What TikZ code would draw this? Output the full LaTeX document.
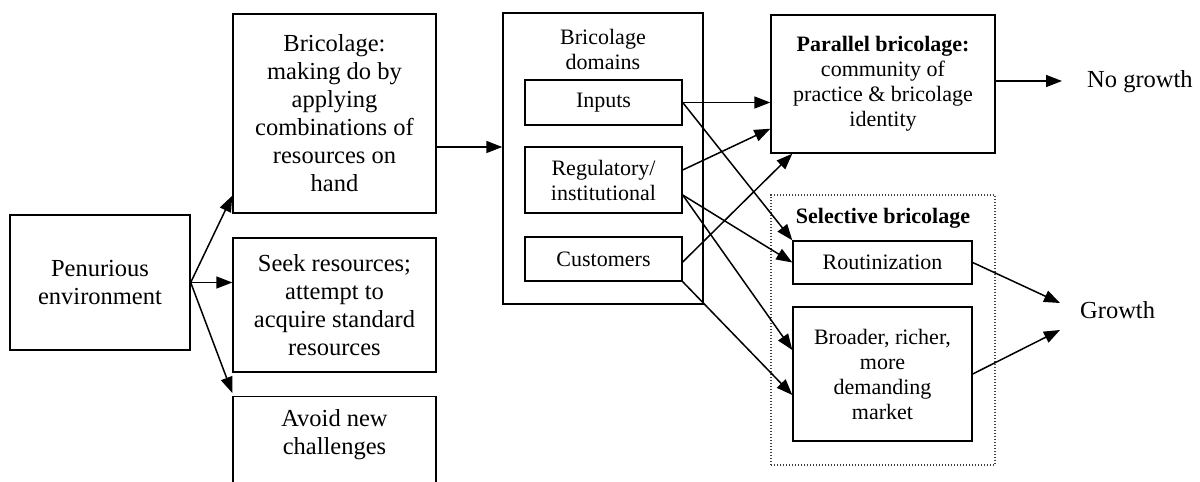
\documentclass[tikz,border=0pt]{standalone}
\usepackage{fontspec}
\setmainfont{Liberation Serif}
\usetikzlibrary{arrows.meta,calc}
\begin{document}
\begin{tikzpicture}[x=1pt,y=-1pt,
  box/.style={draw, line width=1.4pt, align=center, inner sep=0pt, font=\rmfamily\fontsize{24.5}{28}\selectfont},
  sbox/.style={box, font=\rmfamily\fontsize{22}{25}\selectfont},
  arr/.style={line width=1.5pt, -{Triangle[length=16pt,width=12pt]}},
  lbl/.style={inner sep=0pt, align=center},
  dotbox/.style={draw=black!75, line width=1.1pt, dash pattern=on 1.4pt off 1.6pt}]
\useasboundingbox[fill=white] (0,0) rectangle (1200,482);
% left column
\node[box, minimum width=180pt, minimum height=135pt] (pen) at (100,282.5) {Penurious\\environment};
\node[box, minimum width=203pt, minimum height=199pt] (bric) at (334.5,113.5) {Bricolage:\\making do by\\applying\\combinations of\\resources on\\hand};
\node[box, minimum width=203pt, minimum height=134pt] (seek) at (334.5,305) {Seek resources;\\attempt to\\acquire standard\\resources};
\node[box, minimum width=203pt, minimum height=110pt, anchor=north] (avoid) at (334.5,396) {};
\node[lbl, font=\rmfamily\fontsize{24.5}{28}\selectfont] (avoidtxt) at (334.5,435) {Avoid new\\challenges};
% domains
\node[box, minimum width=200pt, minimum height=291pt] (dom) at (603,158.5) {};
\node[lbl, font=\rmfamily\fontsize{22}{25}\selectfont] (domtxt) at (603,49) {Bricolage\\domains};
\node[sbox, minimum width=157pt, minimum height=45pt] (inp) at (603.5,102.5) {Inputs};
\node[sbox, minimum width=157pt, minimum height=66pt] (reg) at (603.5,180) {Regulatory/\\institutional};
\node[sbox, minimum width=157pt, minimum height=44pt] (cust) at (603.5,259) {Customers};
% right side
\node[sbox, minimum width=224pt, minimum height=138pt] (par) at (883,84) {\textbf{Parallel bricolage:}\\community of\\practice \& bricolage\\identity};
\node[dotbox, minimum width=224pt, minimum height=270pt, inner sep=0pt] (sel) at (883,330) {};
\node[lbl, font=\rmfamily\fontsize{22}{25}\selectfont\bfseries] (seltxt) at (883,218) {Selective bricolage};
\node[sbox, minimum width=179pt, minimum height=43pt] (rout) at (882.5,262.5) {Routinization};
\node[sbox, minimum width=179pt, minimum height=134pt] (brd) at (882.5,374) {Broader, richer,\\more\\demanding\\market};
\node[lbl, font=\rmfamily\fontsize{24.5}{28}\selectfont, anchor=west] (nog) at (1087,82) {No growth};
\node[lbl, font=\rmfamily\fontsize{24.5}{28}\selectfont, anchor=west] (gro) at (1080,310) {Growth};
% arrows
\draw[arr] (pen.east) -- ($(bric.south west)+(0,-18)$);
\draw[arr] (pen.east) -- (seek.west |- pen.east);
\draw[arr] (pen.east) -- ($(avoid.north west)+(0,-3)$);
\draw[arr] ($(bric.east)+(0,33.5)$) -- ($(dom.west)+(0,-11.5)$);
\draw[arr] (inp.east) -- (par.west |- inp.east);
\draw[arr] (inp.east) -- (rout.north west);
\draw[arr] ($(reg.east)+(0,-10)$) -- ($(par.south west)+(0,-25)$);
\draw[arr] ($(reg.east)+(0,15)$) -- (rout.west);
\draw[arr] ($(reg.east)+(0,15)$) -- ($(brd.west)+(0,-24)$);
\draw[arr] ($(cust.east)+(0,3)$) -- ($(par.south west)+(22,0)$);
\draw[arr] (cust.south east) -- ($(brd.west)+(0,21)$);
\coordinate (pe) at ($(par.east)+(0,-3)$);
\draw[arr] (pe) -- ($(nog.west |- pe)+(-25,0)$);
\draw[arr] (rout.east) -- ($(gro.west)+(-20,-7)$);
\draw[arr] (brd.east) -- ($(gro.west)+(-20,20)$);
\end{tikzpicture}
\end{document}
